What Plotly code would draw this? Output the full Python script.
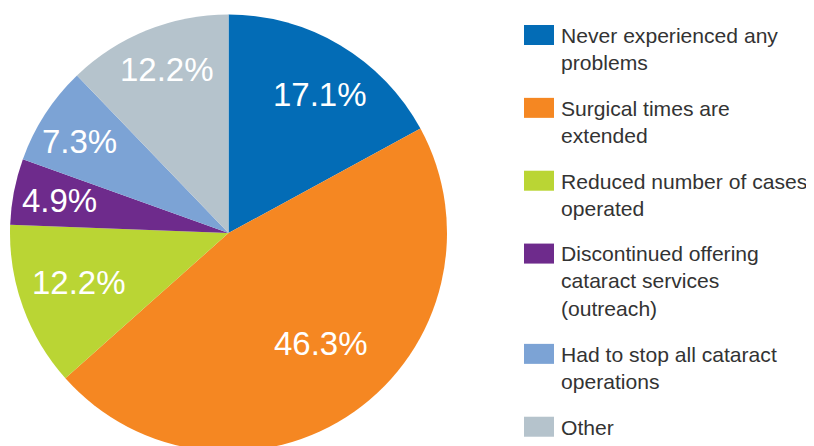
import math

import plotly.graph_objects as go

# Survey answers (41 respondents)
categories = [
    "Never experienced any problems",
    "Surgical times are extended",
    "Reduced number of cases operated",
    "Discontinued offering cataract services (outreach)",
    "Had to stop all cataract operations",
    "Other",
]
legend_text = [
    "Never experienced any<br>problems",
    "Surgical times are<br>extended",
    "Reduced number of cases<br>operated",
    "Discontinued offering<br>cataract services<br>(outreach)",
    "Had to stop all cataract<br>operations",
    "Other",
]
counts = [7, 19, 5, 2, 3, 5]

_COLORS = ["#036cb6", "#f58722", "#bad534", "#6e2b8c", "#7ca3d5", "#b5c3cc"]
_TEXT = "#333333"
_FONT = "Liberation Sans, Arial, sans-serif"

W, H = 814, 446
OFF = 8  # the page's default body margin pushes the plot div 8px right/down
# pie geometry in window px (top-left origin)
CX, CY, R = 228.5, 233.0, 218.5
# % label placement: fraction of R out from the centre, and a small angle
# nudge (deg) off the slice mid-angle
_LABEL_R = [0.76, 0.66, 0.72, 0.79, 0.80, 0.80]
_LABEL_DA = [2.5, -5.0, 1.5, 0.0, -1.5, 1.3]


def px_x(x):
    return (x - OFF) / W


def px_y(y):
    return 1 - (y - OFF) / H


total = sum(counts)

fig = go.Figure(
    go.Pie(
        labels=categories,
        values=counts,
        sort=False,
        direction="clockwise",
        rotation=0,
        marker=dict(colors=_COLORS, line=dict(width=0)),
        textinfo="none",
        hovertemplate="%{label}<br>%{percent:.1%}<extra></extra>",
        showlegend=False,
        domain=dict(x=[px_x(CX - R), px_x(CX + R)],
                    y=[px_y(CY + R), px_y(CY - R)]),
    )
)

annotations = []
shapes = []

# percentage labels, placed along each slice's mid-angle
cum = 0
for i, c in enumerate(counts):
    mid = (cum + c / 2) / total * 2 * math.pi + math.radians(_LABEL_DA[i])
    cum += c
    px = CX + _LABEL_R[i] * R * math.sin(mid)
    py = CY - _LABEL_R[i] * R * math.cos(mid)
    annotations.append(dict(
        x=px_x(px), y=px_y(py), xref="paper", yref="paper",
        xanchor="center", yanchor="middle", showarrow=False,
        text=f"{100 * c / total:.1f}%",
        font=dict(family=_FONT, size=33, color="white"),
    ))

# hand-built legend: big rectangular swatches like the original
fs = 21.1
line_h = 1.3 * fs
gap = 18
baseline = 43.0
for txt, col in zip(legend_text, _COLORS):
    n_lines = txt.count("<br>") + 1
    top = baseline - 0.905 * fs - 2
    annotations.append(dict(
        x=px_x(559), y=px_y(top), xref="paper", yref="paper",
        xanchor="left", yanchor="top", align="left", showarrow=False,
        text=txt, font=dict(family=_FONT, size=fs, color=_TEXT),
    ))
    shapes.append(dict(
        type="rect", xref="paper", yref="paper", line=dict(width=0),
        fillcolor=col, x0=px_x(524), x1=px_x(554),
        y0=px_y(baseline + 2), y1=px_y(baseline - 18),
    ))
    baseline += n_lines * line_h + gap

fig.update_layout(
    width=W, height=H,
    margin=dict(l=0, r=0, t=0, b=0),
    paper_bgcolor="white",
    plot_bgcolor="white",
    annotations=annotations,
    shapes=shapes,
    font=dict(family=_FONT, color=_TEXT),
)

fig.write_html("out.html")
